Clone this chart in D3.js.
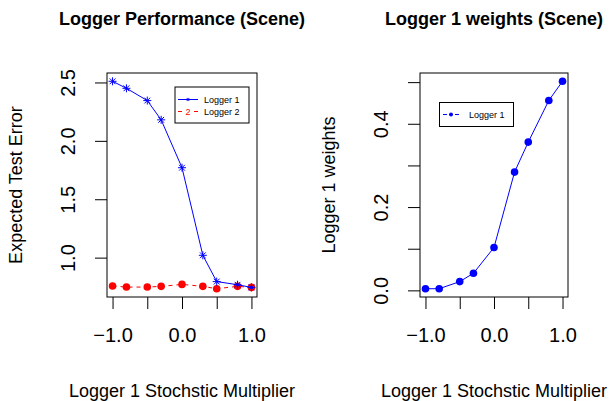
<!DOCTYPE html>
<html>
<head>
<meta charset="utf-8">
<script src="https://cdn.jsdelivr.net/npm/d3@7"></script>
<style>
  body { margin: 0; background: #fff; }
  svg { display: block; font-family: "Liberation Sans", Arial, sans-serif; }
</style>
</head>
<body>
<svg id="chart" width="613" height="401"></svg>
<script>
// data
const multipliers = [-1, -0.8, -0.5, -0.3, 0, 0.3, 0.5, 0.8, 1];
const logger1Error = [2.51, 2.45, 2.345, 2.18, 1.77, 1.02, 0.795, 0.768, 0.745];
const logger2Error = [0.757, 0.748, 0.748, 0.754, 0.771, 0.754, 0.734, 0.754, 0.745];
const logger1Weights = [0.004, 0.004, 0.021, 0.041, 0.103, 0.284, 0.356, 0.456, 0.502];
const xTicks = [-1, -0.5, 0, 0.5, 1];
const xTickLabels = ["\u22121.0", "", "0.0", "", "1.0"];
const errTicks = [1.0, 1.5, 2.0, 2.5];
const weightTicks = [0, 0.1, 0.2, 0.3, 0.4, 0.5];
const weightTickLabels = ["0.0", "", "0.2", "", "0.4", ""];

const svg = d3.select("#chart");
const blue = "#0000ff";
const red = "#ff0000";

// R style padding of 4% on each side
function padded(lo, hi) {
  const p = (hi - lo) * 0.04;
  return [lo - p, hi + p];
}

function panel(opts) {
  const g = svg.append("g");
  const x = d3.scaleLinear().domain(padded(-1, 1)).range([opts.left, opts.right]);
  const y = d3.scaleLinear().domain(opts.yDomain).range([opts.bottom, opts.top]);

  g.append("rect")
    .attr("x", opts.left).attr("y", opts.top)
    .attr("width", opts.right - opts.left).attr("height", opts.bottom - opts.top)
    .attr("fill", "none").attr("stroke", "#000").attr("stroke-width", 1);

  // bottom axis
  const xAxis = d3.axisBottom(x).tickValues(xTicks).tickSize(12).tickPadding(19)
    .tickFormat((d, i) => xTickLabels[i]);
  const xa = g.append("g").attr("transform", "translate(0," + opts.bottom + ")").call(xAxis);
  xa.select(".domain").remove();
  xa.selectAll("text").attr("font-size", 20).attr("font-family", "Liberation Sans, Arial, sans-serif").attr("fill", "#000");

  // left axis, labels turned like R's las=0
  const yAxis = d3.axisLeft(y).tickValues(opts.yTicks).tickSize(12).tickFormat((d, i) => opts.yLabels[i]);
  const ya = g.append("g").attr("transform", "translate(" + opts.left + ",0)").call(yAxis);
  ya.select(".domain").remove();
  ya.selectAll("text")
    .attr("font-size", 20).attr("font-family", "Liberation Sans, Arial, sans-serif").attr("fill", "#000")
    .attr("x", null).attr("dy", null)
    .attr("text-anchor", "middle")
    .attr("transform", "translate(" + (opts.yLabelX - opts.left) + ",0) rotate(-90) translate(0,7)");

  g.append("text")
    .attr("x", (opts.left + opts.right) / 2).attr("y", 25)
    .attr("text-anchor", "middle").attr("font-weight", "bold").attr("font-size", 18)
    .text(opts.title);

  g.append("text")
    .attr("x", (opts.left + opts.right) / 2).attr("y", 397)
    .attr("text-anchor", "middle").attr("font-size", 18)
    .text("Logger 1 Stochstic Multiplier");

  g.append("text")
    .attr("transform", "translate(" + opts.titleX + "," + ((opts.top + opts.bottom) / 2) + ") rotate(-90)")
    .attr("text-anchor", "middle").attr("font-size", 18)
    .text(opts.yTitle);

  return { g: g, x: x, y: y };
}

function star(sel, cx, cy, r, color) {
  const s = sel.append("g").attr("stroke", color).attr("stroke-width", 1);
  s.append("line").attr("x1", cx - r).attr("x2", cx + r).attr("y1", cy).attr("y2", cy);
  s.append("line").attr("x1", cx).attr("x2", cx).attr("y1", cy - r).attr("y2", cy + r);
  const d = r * 0.72;
  s.append("line").attr("x1", cx - d).attr("x2", cx + d).attr("y1", cy - d).attr("y2", cy + d);
  s.append("line").attr("x1", cx - d).attr("x2", cx + d).attr("y1", cy + d).attr("y2", cy - d);
}

// ---- left panel: error
const p1 = panel({
  left: 107, right: 257, top: 73, bottom: 297,
  yDomain: padded(d3.min(logger2Error), d3.max(logger1Error)),
  yTicks: errTicks, yLabels: errTicks.map(d3.format(".1f")),
  yLabelX: 68, titleX: 22,
  title: "Logger Performance (Scene)", yTitle: "Expected Test Error"
});

const line1 = d3.line().x((d, i) => p1.x(multipliers[i])).y(d => p1.y(d));

p1.g.append("path").datum(logger2Error)
  .attr("d", line1).attr("fill", "none").attr("stroke", red).attr("stroke-dasharray", "4,4");
p1.g.selectAll(".dot2").data(logger2Error).enter().append("circle")
  .attr("cx", (d, i) => p1.x(multipliers[i])).attr("cy", d => p1.y(d))
  .attr("r", 3.8).attr("fill", red);

p1.g.append("path").datum(logger1Error)
  .attr("d", line1).attr("fill", "none").attr("stroke", blue);
logger1Error.forEach((d, i) => star(p1.g, p1.x(multipliers[i]), p1.y(d), 4, blue));

// legend
const lg1 = p1.g.append("g");
lg1.append("rect").attr("x", 175).attr("y", 87).attr("width", 74).attr("height", 36)
  .attr("fill", "#fff").attr("stroke", "#000");
lg1.append("line").attr("x1", 178).attr("x2", 198).attr("y1", 99.5).attr("y2", 99.5).attr("stroke", blue);
star(lg1, 188, 99.5, 1.6, blue);
lg1.append("line").attr("x1", 178).attr("x2", 198).attr("y1", 111.5).attr("y2", 111.5)
  .attr("stroke", red).attr("stroke-dasharray", "4,4");
lg1.append("rect").attr("x", 185).attr("y", 107).attr("width", 6).attr("height", 9).attr("fill", "#fff");
lg1.append("text").attr("x", 188).attr("y", 115).attr("text-anchor", "middle")
  .attr("font-size", 9).attr("fill", red).text("2");
lg1.append("text").attr("x", 204).attr("y", 102.5).attr("font-size", 9).text("Logger 1");
lg1.append("text").attr("x", 204).attr("y", 114.5).attr("font-size", 9).text("Logger 2");

// ---- right panel: weights
const p2 = panel({
  left: 420, right: 568, top: 73, bottom: 297,
  yDomain: padded(d3.min(logger1Weights), d3.max(logger1Weights)),
  yTicks: weightTicks, yLabels: weightTickLabels,
  yLabelX: 381, titleX: 335,
  title: "Logger 1 weights (Scene)", yTitle: "Logger 1 weights"
});

const line2 = d3.line().x((d, i) => p2.x(multipliers[i])).y(d => p2.y(d));
p2.g.append("path").datum(logger1Weights)
  .attr("d", line2).attr("fill", "none").attr("stroke", blue);
p2.g.selectAll(".dot").data(logger1Weights).enter().append("circle")
  .attr("cx", (d, i) => p2.x(multipliers[i])).attr("cy", d => p2.y(d))
  .attr("r", 3.8).attr("fill", blue);

const lg2 = p2.g.append("g");
lg2.append("rect").attr("x", 439.5).attr("y", 102.5).attr("width", 74).attr("height", 24)
  .attr("fill", "#fff").attr("stroke", "#000");
lg2.append("line").attr("x1", 443).attr("x2", 459).attr("y1", 114.5).attr("y2", 114.5)
  .attr("stroke", blue).attr("stroke-dasharray", "4,2");
lg2.append("circle").attr("cx", 451).attr("cy", 114.5).attr("r", 2).attr("fill", blue);
lg2.append("text").attr("x", 469).attr("y", 117.5).attr("font-size", 9).text("Logger 1");
</script>
</body>
</html>
